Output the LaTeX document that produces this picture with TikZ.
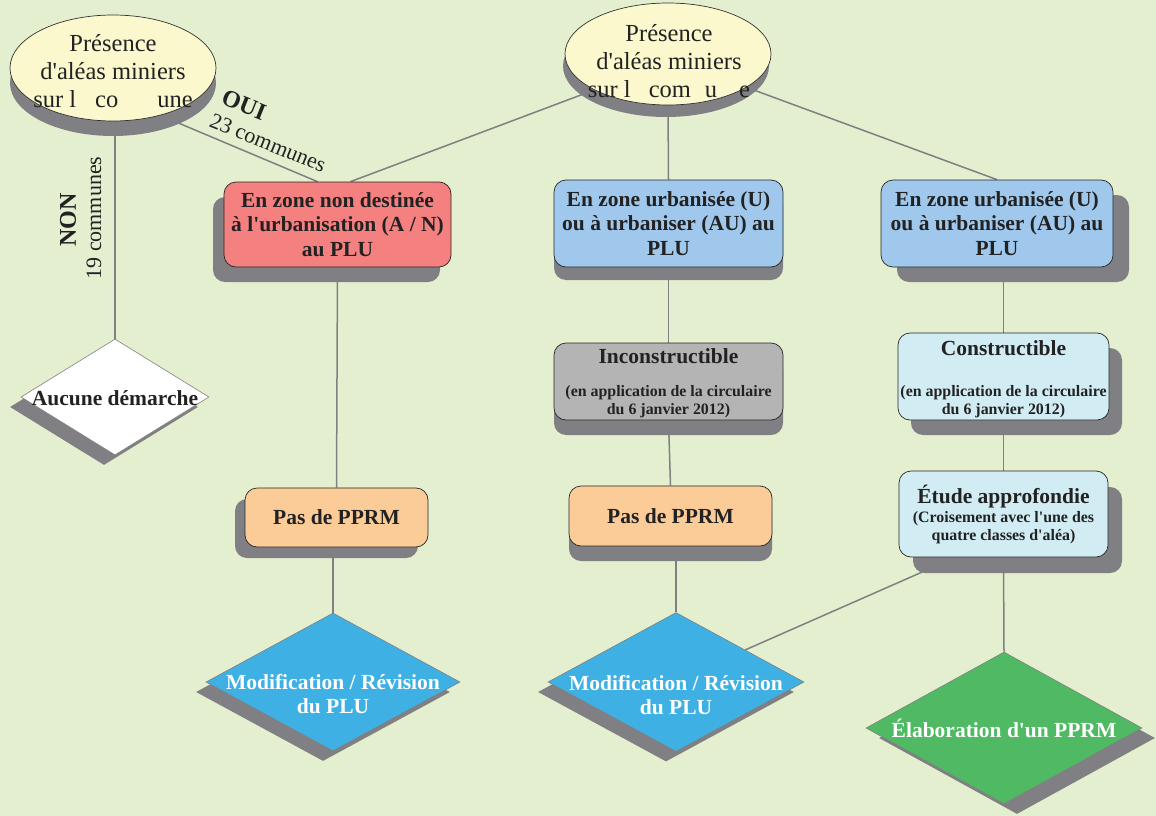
\documentclass[tikz,border=0pt]{standalone}
\usepackage{fontspec}
\setmainfont{Liberation Serif}[Ligatures=TeXOff]
\usetikzlibrary{shapes.geometric,shadows,calc}
\definecolor{bgc}{RGB}{227,239,207}
\definecolor{shd}{RGB}{128,128,132}
\definecolor{ellfill}{RGB}{250,248,204}
\definecolor{redbox}{RGB}{244,128,128}
\definecolor{bluebox}{RGB}{160,200,236}
\definecolor{graybox}{RGB}{180,180,180}
\definecolor{peach}{RGB}{252,204,152}
\definecolor{cyanbox}{RGB}{210,236,244}
\definecolor{dblue}{RGB}{63,176,227}
\definecolor{dgreen}{RGB}{79,185,99}
\definecolor{conn}{RGB}{128,128,128}
\definecolor{txt}{RGB}{34,34,34}
\pgfdeclarelayer{bg}\pgfdeclarelayer{lines}\pgfsetlayers{bg,lines,main}
\begin{document}
\begin{tikzpicture}[x=1pt,y=-1pt,
 sh/.style 2 args={drop shadow={shadow xshift=#1pt, shadow yshift=#2pt, fill=shd, opacity=1}},
 box/.style={draw=black!85, line width=0.7pt, rounded corners=12pt, align=center, inner sep=0pt,
   font=\fontsize{21.5}{24.5}\selectfont\bfseries, text=txt},
 btitle/.style={font=\fontsize{21.5}{24.5}\selectfont\bfseries, text=txt, inner sep=0pt},
 bsub/.style={align=center, font=\fontsize{15.9}{18}\selectfont\bfseries, text=txt, inner sep=0pt},
 ell/.style={ellipse, draw=black!80, line width=0.7pt, fill=ellfill, inner sep=0pt},
 etext/.style={align=center, font=\fontsize{24.5}{28}\selectfont, text=txt},
 dia/.style={diamond, draw=black!50, line width=0.6pt, inner sep=0pt},
 dtext/.style={align=center, font=\fontsize{21.5}{24}\selectfont\bfseries, text=white},
 conn/.style={draw=conn, line width=1.5pt},
 lab/.style={font=\fontsize{24}{26}\selectfont\bfseries, text=txt, inner sep=0pt},
 sublab/.style={font=\fontsize{22}{24}\selectfont, text=txt, inner sep=0pt}
]
\begin{pgfonlayer}{bg}
\fill[bgc] (0,0) rectangle (1156,816);
\end{pgfonlayer}
\useasboundingbox (0,0) rectangle (1156,816);

% ellipses
\node[ell, minimum width=206pt, minimum height=106pt, sh={0}{-15}] (e1) at (113,68) {};
\node[etext] (e1t) at (113,71) {Présence\\d'aléas miniers\\sur l\hspace{19pt}co\hspace{39pt}une};
\node[ell, minimum width=206pt, minimum height=102pt, sh={-2}{-12}] (e2) at (668,54) {};
\node[etext] (e2t) at (669,61) {Présence\\d'aléas miniers\\sur l\hspace{18pt}com\hspace{14pt}u\hspace{22pt}e};

% boxes
\node[box, fill=redbox, minimum width=227pt, minimum height=85pt, sh={-11}{-15}] (A) at (337.5,224.5)
  {En zone non destinée\\à l'urbanisation (A / N)\\au PLU};
\node[box, fill=bluebox, minimum width=229pt, minimum height=87pt, sh={0}{-13}] (B) at (668.5,223.5)
  {En zone urbanisée (U)\\ou à urbaniser (AU) au\\PLU};
\node[box, fill=bluebox, minimum width=232pt, minimum height=87pt, sh={16}{-15}] (C) at (997,223.5)
  {En zone urbanisée (U)\\ou à urbaniser (AU) au\\PLU};
\node[box, fill=graybox, minimum width=229pt, minimum height=77pt, sh={0}{-15}] (I) at (668.5,381.5) {};
\node[btitle] (It) at (668.5,356) {Inconstructible};
\node[bsub] (Is) at (668.5,402) {(en application de la circulaire\\du 6 janvier 2012)};
\node[box, fill=cyanbox, minimum width=211pt, minimum height=87pt, sh={13}{-15}] (K) at (1003.5,376.5) {};
\node[btitle] (Kt) at (1003.5,348) {Constructible};
\node[bsub] (Ks) at (1003.5,401.5) {(en application de la circulaire\\du 6 janvier 2012)};
\node[box, fill=peach, minimum width=183pt, minimum height=59pt, sh={-10}{-11}] (P1) at (336.5,517.5) {Pas de PPRM};
\node[box, fill=peach, minimum width=203pt, minimum height=60pt, sh={0}{-15}] (P2) at (670.5,516) {Pas de PPRM};
\node[box, fill=cyanbox, minimum width=209pt, minimum height=86pt, sh={14}{-16}] (E) at (1003.5,514) {};
\node[btitle] (Et) at (1003.5,497) {Étude approfondie};
\node[bsub] (Es) at (1003.5,528) {(Croisement avec l'une des\\quatre classes d'aléa)};

% diamonds
\node[dia, fill=white, minimum width=188pt, minimum height=116pt, sh={-11}{-10}] (D0) at (115,397) {};
\node[dtext, text=txt] (D0t) at (115,398) {Aucune démarche};
\node[dia, fill=dblue, minimum width=254pt, minimum height=138pt, sh={-10}{-10}] (D1) at (333,682) {};
\node[dtext] (D1t) at (333,694) {Modification / Révision\\du PLU};
\node[dia, fill=dblue, minimum width=256pt, minimum height=139pt, sh={-10}{-10}] (D2) at (676,682) {};
\node[dtext] (D2t) at (676,695) {Modification / Révision\\du PLU};
\node[dia, fill=dgreen, minimum width=276pt, minimum height=152pt, sh={13}{-10}] (D3) at (1004,728) {};
\node[dtext] (D3t) at (1004,728) {Élaboration d'un PPRM};

% labels
\node[lab, rotate=-22] (oui) at (244,105) {OUI};
\node[sublab, rotate=-22] (oui2) at (268,143) {23 communes};
\node[lab, rotate=90] (non) at (68,220) {NON};
\node[sublab, rotate=90] (non2) at (94,218) {19 communes};

% connectors
\begin{pgfonlayer}{lines}
\draw[conn] (e1.-45) -- ($(A.north)+(-20,0)$);
\draw[conn] (e2.-154) -- ($(A.north)+(13,0)$);
\draw[conn] (e2.south) -- (B.north);
\draw[conn] (e2.-23) -- (C.north);
\draw[conn] (D0.north |- e1.south) -- (D0.north);
\draw[conn] (A.south) -- (P1.north);
\draw[conn] (D1.north |- P1.south) -- (D1.north);
\draw[conn] (B.south) -- (I.north);
\draw[conn] (I.south) -- (P2.north);
\draw[conn] (D2.north |- P2.south) -- (D2.north);
\draw[conn] (K.north |- C.south) -- (K.north);
\draw[conn] (K.south) -- (E.north);
\draw[conn] (E.south) -- (D3.north);
\draw[conn] ($(E.south)+(-48,0)$) -- ($(D2.north)!0.54!(D2.east)$);
\end{pgfonlayer}
\end{tikzpicture}
\end{document}
